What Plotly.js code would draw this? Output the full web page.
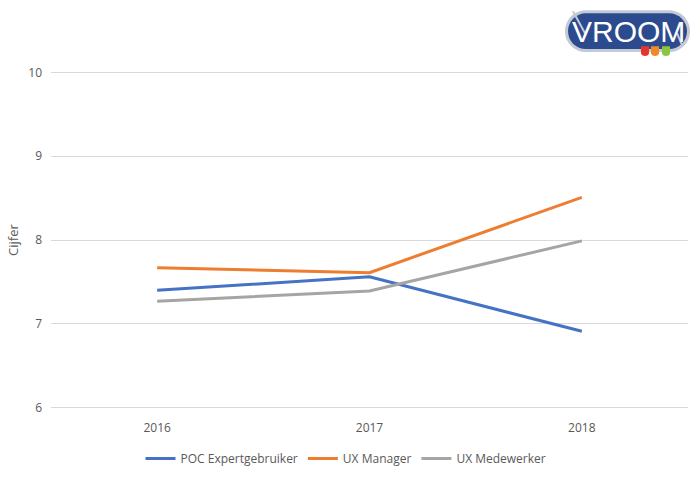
<!DOCTYPE html>
<html>
<head>
<meta charset="utf-8">
<script src="https://cdn.plot.ly/plotly-3.0.1.min.js"></script>
<style>html,body{margin:0;padding:0;background:#fff;}#chart{width:693px;height:478px;}</style>
</head>
<body>
<div id="chart"></div>
<script>
const years = ["2016", "2017", "2018"];
const seriesNames = ["POC Expertgebruiker", "UX Manager", "UX Medewerker"];
const pocValues = [7.40, 7.56, 6.91];
const managerValues = [7.67, 7.61, 8.51];
const medewerkerValues = [7.27, 7.39, 7.99];
const yTicks = [6, 7, 8, 9, 10];
const colors = ["#4472C4", "#ED7D31", "#A5A5A5"];

const W = 693, H = 478;
const M = {l: 51, r: 5, t: 70, b: 66};
const px = x => (x - M.l) / (W - M.l - M.r);
const py = y => (H - M.b - y) / (H - M.t - M.b);

const font = "Open Sans, sans-serif";
const allValues = [pocValues, managerValues, medewerkerValues];
const traces = allValues.map((v, i) => ({
  type: "scatter", mode: "lines", x: years, y: v, name: seriesNames[i],
  line: {color: colors[i], width: 3}, hoverinfo: "x+y+name"
}));

function pill(x0, y0, x1, y1, fill) {
  const r = (y1 - y0) / 2;
  const k = 0.5523 * r;
  const X = v => px(v), Y = v => py(v);
  const p = `M ${X(x0 + r)},${Y(y0)} L ${X(x1 - r)},${Y(y0)} ` +
    `C ${X(x1 - r + k)},${Y(y0)} ${X(x1)},${Y(y0 + r - k)} ${X(x1)},${Y(y0 + r)} ` +
    `C ${X(x1)},${Y(y0 + r + k)} ${X(x1 - r + k)},${Y(y1)} ${X(x1 - r)},${Y(y1)} ` +
    `L ${X(x0 + r)},${Y(y1)} ` +
    `C ${X(x0 + r - k)},${Y(y1)} ${X(x0)},${Y(y0 + r + k)} ${X(x0)},${Y(y0 + r)} ` +
    `C ${X(x0)},${Y(y0 + r - k)} ${X(x0 + r - k)},${Y(y0)} ${X(x0 + r)},${Y(y0)} Z`;
  return {type: "path", xref: "paper", yref: "paper", path: p, fillcolor: fill, line: {width: 0}, layer: "above"};
}
function drop(x0, y0, x1, y1, fill) {
  const r = (x1 - x0) / 2;
  const X = v => px(v), Y = v => py(v);
  const p = `M ${X(x0)},${Y(y0)} L ${X(x1)},${Y(y0)} L ${X(x1)},${Y(y1 - r)} ` +
    `C ${X(x1)},${Y(y1)} ${X(x0)},${Y(y1)} ${X(x0)},${Y(y1 - r)} Z`;
  return {type: "path", xref: "paper", yref: "paper", path: p, fillcolor: fill, line: {width: 0}, layer: "above"};
}
const shapes = [
  pill(565, 10, 690, 52, "#c3cad6"),
  pill(568, 13, 687, 49, "#2c4b8e"),
  {type: "line", xref: "paper", yref: "paper", x0: px(573), y0: py(11), x1: px(585), y1: py(33), line: {color: "#c3cad6", width: 2}, layer: "above"},
  {type: "line", xref: "paper", yref: "paper", x0: px(677), y0: py(33), x1: px(682), y1: py(45), line: {color: "#c3cad6", width: 2}, layer: "above"},
  drop(641, 46, 649, 57, "#e8352b"),
  drop(651, 46, 659, 57, "#f08a24"),
  drop(662, 46, 670, 57, "#8cc63f")
];

const layout = {
  width: W, height: H, margin: M,
  paper_bgcolor: "#ffffff", plot_bgcolor: "#ffffff",
  font: {family: font, size: 12, color: "#595959"},
  showlegend: true,
  legend: {orientation: "h", x: px(346), xanchor: "center", y: -0.1, yanchor: "top",
    font: {family: font, size: 12, color: "#595959"}, itemwidth: 30, traceorder: "normal"},
  xaxis: {type: "category", range: [-0.5, 2.5], showgrid: false, zeroline: false,
    showline: false, ticks: "", ticklabelstandoff: 9,
    tickfont: {family: font, size: 12, color: "#595959"}, fixedrange: true},
  yaxis: {range: [5.97, 10.03], tickvals: yTicks, ticktext: yTicks.map(String), showgrid: true,
    gridcolor: "#d9d9d9", gridwidth: 1, zeroline: false, showline: false, ticks: "",
    ticklabelstandoff: 8,
    tickfont: {family: font, size: 12, color: "#595959"},
    title: {text: "Cijfer", font: {family: font, size: 13, color: "#595959"}, standoff: 6}, fixedrange: true},
  shapes: shapes,
  annotations: [{xref: "paper", yref: "paper", x: px(628), y: py(31), text: "VROOM",
    showarrow: false, xanchor: "center", yanchor: "middle",
    font: {family: "Liberation Sans, sans-serif", size: 30, color: "#ffffff"}}]
};

Plotly.newPlot("chart", traces, layout, {displayModeBar: false, staticPlot: true});
</script>
</body>
</html>
